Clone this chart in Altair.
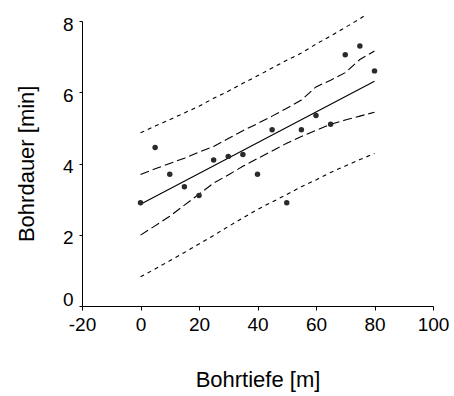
import altair as alt
import pandas as pd

# Observations
depth = [0, 5, 10, 15, 20, 25, 30, 35, 40, 45, 50, 55, 60, 65, 70, 75, 80]
duration = [2.9, 4.45, 3.7, 3.35, 3.1, 4.1, 4.2, 4.25, 3.7, 4.95, 2.9, 4.95, 5.35, 5.1, 7.05, 7.3, 6.6]

# Confidence band (dashed)
conf_upper = [3.69, 3.85, 4.0, 4.15, 4.32, 4.48, 4.7, 4.92, 5.12, 5.33, 5.55, 5.78, 6.15, 6.34, 6.55, 6.92, 7.16]
conf_lower = [1.99, 2.25, 2.52, 2.83, 3.14, 3.45, 3.68, 3.92, 4.14, 4.35, 4.57, 4.76, 4.93, 5.1, 5.22, 5.33, 5.44]

# Prediction band (dotted)
pred_upper_x = [0, 5, 10, 15, 20, 25, 30, 35, 40, 45, 50, 55, 60, 65, 70, 75, 77.2]
pred_upper = [4.86, 5.05, 5.23, 5.42, 5.61, 5.83, 6.03, 6.25, 6.46, 6.68, 6.9, 7.1, 7.35, 7.58, 7.82, 8.06, 8.18]
pred_lower = [0.82, 1.04, 1.27, 1.5, 1.74, 1.98, 2.23, 2.47, 2.71, 2.92, 3.13, 3.35, 3.54, 3.75, 3.93, 4.11, 4.28]

x_ticks = [-20, 0, 20, 40, 60, 80, 100]
y_ticks = [0, 2, 4, 6, 8]

points = pd.DataFrame({"x": depth, "y": duration})

FONT = "Liberation Sans"

xenc = alt.X(
    "x:Q",
    scale=alt.Scale(domain=[-20, 100], nice=False, zero=False),
    axis=alt.Axis(
        values=x_ticks,
        title="Bohrtiefe [m]",
        labelFlush=False,
        labelPadding=5,
        tickSize=4,
        labelExpr="datum.value < 0 ? '-' + abs(datum.value) : '' + datum.value",
        titleY=80,
        titleBaseline="alphabetic",
    ),
)
yenc = alt.Y(
    "y:Q",
    scale=alt.Scale(domain=[0, 8], nice=False),
    axis=alt.Axis(
        values=y_ticks,
        title="Bohrdauer [min]",
        labelPadding=6,
        tickSize=3,
        labelOffset=3,
        labelBaseline={"condition": {"test": "datum.value == 0", "value": "bottom"}, "value": "middle"},
        titleX=-48.7,
        titleY=142.3,
        titleBaseline="alphabetic",
    ),
)


def band_layer(xs, ys, dash):
    df = pd.DataFrame({"x": xs, "y": ys})
    return alt.Chart(df).mark_line(
        color="black", strokeWidth=1.1, strokeDash=dash, clip=False
    ).encode(x=xenc, y=yenc)


layers = [
    band_layer(pred_upper_x, pred_upper, [4, 4]),
    band_layer(depth, pred_lower, [4, 4]),
    band_layer(depth, conf_upper, [9, 4]),
    band_layer(depth, conf_lower, [9, 4]),
    alt.Chart(points)
    .transform_regression("x", "y", extent=[0, 80])
    .mark_line(color="black", strokeWidth=1.1, clip=False)
    .encode(x=xenc, y=yenc),
    alt.Chart(points)
    .mark_circle(size=30, color="#2b2b2b", opacity=1)
    .encode(x=xenc, y=yenc),
]

chart = (
    alt.layer(*layers)
    .properties(
        width=351,
        height=285,
        padding={"left": 82, "top": 21, "right": 21, "bottom": 90},
        autosize=alt.AutoSizeParams(type="none"),
        background="white",
    )
    .configure_view(stroke=None)
    .configure_axis(
        grid=False,
        domainColor="black",
        domainWidth=1,
        tickColor="black",
        tickWidth=1,
        labelFont=FONT,
        labelFontSize=19,
        labelColor="black",
        labelOverlap=False,
        titleFont=FONT,
        titleFontSize=22,
        titleFontWeight="normal",
        titleColor="black",
    )
)

chart.save("out.html", embed_options={"renderer": "svg", "actions": False})
